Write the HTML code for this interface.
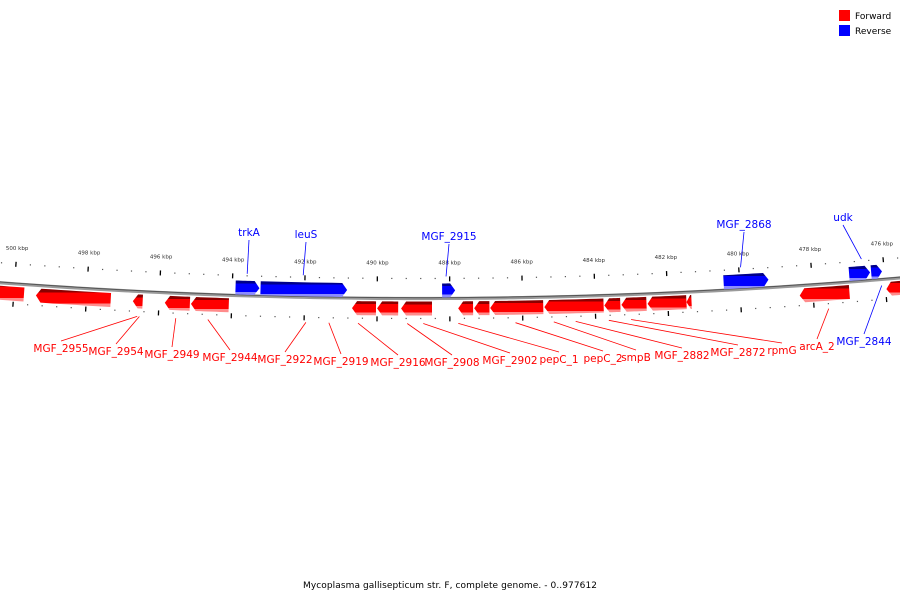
<!DOCTYPE html>
<html><head><meta charset="utf-8"><style>
html,body{margin:0;padding:0;background:#fff;}
svg{display:block;font-family:"DejaVu Sans","Liberation Sans",sans-serif;}
</style></head><body>
<svg id="chart" width="900" height="600" viewBox="0 0 900 600">
<defs>
<linearGradient id="gRed" x1="0" y1="0" x2="0" y2="1">
<stop offset="0" stop-color="#8b0000"/><stop offset="0.2" stop-color="#8b0000"/>
<stop offset="0.2" stop-color="#ff0000"/><stop offset="0.8" stop-color="#ff0000"/>
<stop offset="0.8" stop-color="#ff8c8c"/><stop offset="1" stop-color="#ff8c8c"/></linearGradient>
<linearGradient id="gBlue" x1="0" y1="0" x2="0" y2="1">
<stop offset="0" stop-color="#00008b"/><stop offset="0.2" stop-color="#00008b"/>
<stop offset="0.2" stop-color="#0000ff"/><stop offset="0.8" stop-color="#0000ff"/>
<stop offset="0.8" stop-color="#8c8cff"/><stop offset="1" stop-color="#8c8cff"/></linearGradient>
</defs>
<g>
<rect x="839" y="10" width="11" height="11" fill="#ff0000"/>
<text x="855" y="19" font-size="9" fill="#000">Forward</text>
<rect x="839" y="25" width="11" height="11" fill="#0000ff"/>
<text x="855" y="34" font-size="9" fill="#000">Reverse</text>
</g>
<text x="450" y="588" font-size="9" text-anchor="middle" textLength="294" fill="#000">Mycoplasma gallisepticum str. F, complete genome. - 0..977612</text>
<g id="scale"></g><g id="genes"></g><g id="labels"></g>
</svg>
<script>
// data
const geneNames = ["MGF_2956","MGF_2955","MGF_2954","MGF_2949","MGF_2944","MGF_2922","MGF_2919","MGF_2916","MGF_2908","MGF_2902","pepC_1","pepC_2","smpB","MGF_2882","MGF_2872","rpmG","arcA_2","MGF_2843","trkA","leuS","MGF_2915","MGF_2868","udk","MGF_2844"];
const geneStart = [501.5,499.39,496.72,495.84,495.12,490.69,490.0,489.34,487.77,487.33,486.89,485.40,483.75,483.28,482.56,481.49,478.37,475.98,493.91,493.22,488.21,480.44,476.97,476.36];
const geneEnd = [499.72,497.33,496.45,495.15,494.08,490.03,489.42,488.49,487.36,486.91,485.43,483.77,483.31,482.59,481.49,481.35,477.0,475.3,493.25,490.83,487.85,479.2,476.39,476.06];
const geneStrand = ["F","F","F","F","F","F","F","F","F","F","F","F","F","F","F","F","F","F","R","R","R","R","R","R"];
const tickLabels = [500,498,496,494,492,490,488,486,484,482,480,478,476];
const minorStep = 0.4;
// labels: name, target kbp
const labelNames = ["MGF_2955","MGF_2954","MGF_2949","MGF_2944","MGF_2922","MGF_2919","MGF_2916","MGF_2908","MGF_2902","pepC_1","pepC_2","smpB","MGF_2882","MGF_2872","rpmG","arcA_2","MGF_2844","trkA","leuS","MGF_2915","MGF_2868","udk"];
const labelTarget = [496.58,496.52,495.52,494.64,491.95,491.32,490.52,489.17,488.73,487.77,486.2,485.15,484.55,483.64,483.03,477.6,476.1,493.6,492.05,488.1,479.95,476.6];
// layout (label anchor positions)
const labelPos = [[61,352],[116,355],[172,358],[230,361],[285,363],[341,365],[398,366],[452,366],[510,364],[559,363],[603,362],[636,361],[682,359],[738,356],[782,354],[817,350],[864,345],[249,236],[306,238],[449,240],[744,228],[843,221]];
const labelStrand = ["F","F","F","F","F","F","F","F","F","F","F","F","F","F","F","F","R","R","R","R","R","R"];

const NS="http://www.w3.org/2000/svg";
const R=5600, cx=420, cy=298.5-5600, kC=488.82, s=36.3/5600;
function ang(k){return (kC-k)*s;}
function px(k,r){const a=ang(k);return [cx+r*Math.sin(a), cy+r*Math.cos(a)];}
function mk(tag,attrs,parent){const e=document.createElementNS(NS,tag);for(const k in attrs)e.setAttribute(k,attrs[k]);parent.appendChild(e);return e;}
const scale=document.getElementById('scale');
// backbone
let d="";for(let k=502;k>=474;k-=0.25){const p=px(k,R);d+=(d?"L":"M")+p[0].toFixed(2)+","+p[1].toFixed(2);}
const bb1=mk('path',{d:d,fill:"none",stroke:"#9a9a9a","stroke-width":3.2},scale);


const bb2=mk('path',{d:d,fill:"none",stroke:"#555","stroke-width":1,transform:"translate(0,-0.8)"},scale);


// ticks
tickLabels.forEach(t=>{
  [[R-22,R-17],[R+18,R+23]].forEach(rr=>{
    const a=px(t,rr[0]),b=px(t,rr[1]);
    const l=mk('line',{x1:a[0],y1:a[1],x2:b[0],y2:b[1],stroke:"#000","stroke-width":1.3},scale);
    
    
  });
  const lp=px(t,R-36);
  const tx=mk('text',{x:lp[0],y:lp[1]+2,"font-size":5.5,"text-anchor":"middle",fill:"#333"},scale);
  tx.textContent=t+" kbp";
  
  
});
for(let k=501.6;k>=474;k-=minorStep){
  if(Math.abs(k/2-Math.round(k/2))<0.01)continue;
  [R-20,R+20].forEach(r=>{const p=px(k,r);
    const c=mk('rect',{x:p[0]-0.6,y:p[1]-0.6,width:1.2,height:1.2,fill:"#555"},scale);
    
    });
}
// genes
const genes=document.getElementById('genes');
const headK=5/36.3;
geneNames.forEach((n,i)=>{
  const F=geneStrand[i]==="F";
  const r1=F?R+3:R-15, r2=F?R+17:R-1, rm=(r1+r2)/2;
  const hi=geneStart[i], lo=geneEnd[i];
  const len=hi-lo, h=Math.min(headK,len*0.8);
  let pts=[];
  if(F){ // head at hi (left)
    const base=hi-h;
    for(let k=base;k>=lo-1e-9;k-=Math.max((base-lo)/8,0.001)){pts.push(px(k,r1));if(base-lo<1e-6)break;}
    pts.push(px(lo,r1));pts.push(px(lo,r2));
    for(let k=lo;k<=base+1e-9;k+=Math.max((base-lo)/8,0.001)){pts.push(px(k,r2));if(base-lo<1e-6)break;}
    pts.push(px(base,r2));pts.push(px(hi,rm));pts.push(px(base,r1));
  } else { // head at lo (right)
    const base=lo+h;
    pts.push(px(hi,r1));
    for(let k=hi;k>=base-1e-9;k-=Math.max((hi-base)/8,0.001)){pts.push(px(k,r1));if(hi-base<1e-6)break;}
    pts.push(px(base,r1));pts.push(px(lo,rm));pts.push(px(base,r2));
    for(let k=base;k<=hi+1e-9;k+=Math.max((hi-base)/8,0.001)){pts.push(px(k,r2));if(hi-base<1e-6)break;}
    pts.push(px(hi,r2));
  }
  const pg=mk('polygon',{points:pts.map(p=>p[0].toFixed(2)+","+p[1].toFixed(2)).join(" "),fill:F?"url(#gRed)":"url(#gBlue)"},genes);
  
  
});
// labels
const labels=document.getElementById('labels');
labelNames.forEach((n,i)=>{
  const F=labelStrand[i]==="F", col=F?"#ff0000":"#0000ff";
  const [lx,ly]=labelPos[i];
  const above=ly>300;
  const tgt=px(labelTarget[i], above?(F?R+25:R+6):R-22);
  const ln=mk('line',{x1:lx,y1:above?ly-11:ly+4,x2:tgt[0],y2:tgt[1],stroke:col,"stroke-width":0.8},labels);
  
  
  const t=mk('text',{x:lx,y:ly,"font-size":10.5,"text-anchor":"middle",fill:col},labels);
  t.textContent=n;
  
  
});
</script>
</body></html>
